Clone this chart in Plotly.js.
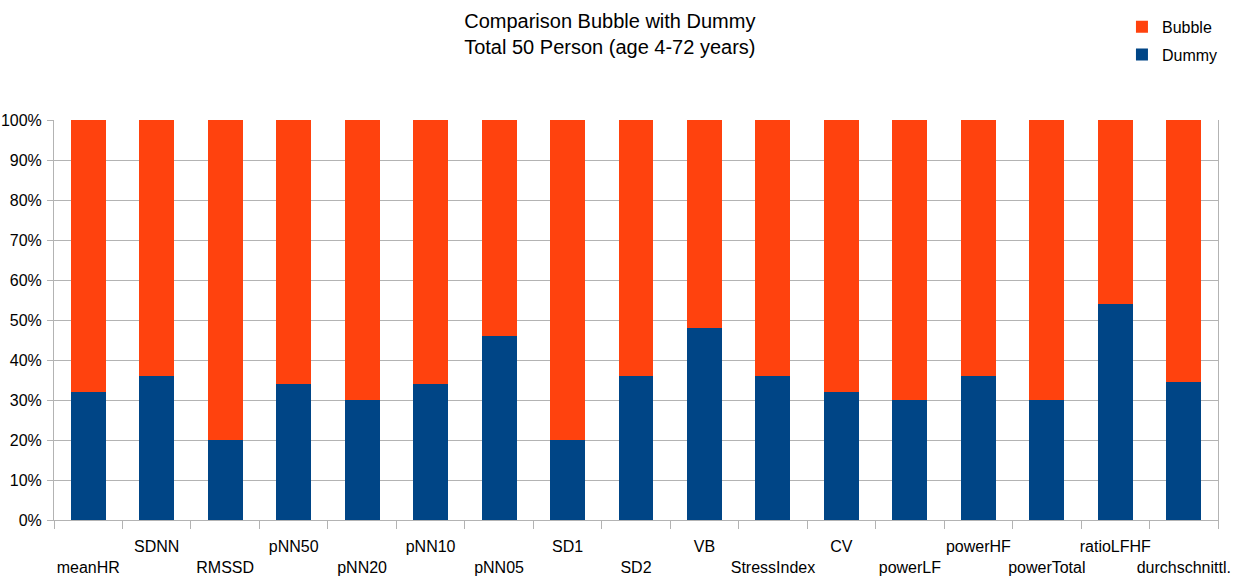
<!DOCTYPE html>
<html><head><meta charset="utf-8">
<script src="https://cdn.plot.ly/plotly-3.0.1.min.js"></script>
<style>html,body{margin:0;padding:0;background:#fff}</style>
</head><body>
<div id="chart" style="width:1237px;height:579px"></div>
<script>
const categories = ["meanHR","SDNN","RMSSD","pNN50","pNN20","pNN10","pNN05","SD1","SD2","VB","StressIndex","CV","powerLF","powerHF","powerTotal","ratioLFHF","durchschnittl."];
const dummy = [32,36,20,34,30,34,46,20,36,48,36,32,30,36,30,54,34.6];
const bubble = dummy.map(v => 100 - v);
const yTicks = [0,10,20,30,40,50,60,70,80,90,100];

const tickText = categories.map((c,i) => i % 2 === 0 ? "<br>" + c : c);

const traces = [
  {type:'bar', name:'Dummy', legendgroup:'d', legendrank:2, x:categories, y:dummy, marker:{color:'#004586'}, width:0.51, hoverinfo:'x+y'},
  {type:'bar', name:'Bubble', legendgroup:'b', legendrank:1, x:categories, y:bubble, marker:{color:'#ff420e'}, width:0.51, hoverinfo:'x+y'}
];

const layout = {
  width:1237, height:579,
  margin:{l:54, r:19, t:120, b:59, pad:0, autoexpand:false},
  paper_bgcolor:'#fff', plot_bgcolor:'#fff',
  font:{family:'"Liberation Sans", Arial, sans-serif', size:16, color:'#000'},
  barmode:'stack',
  title:{text:'Comparison Bubble with Dummy<br>Total 50 Person (age 4-72 years)', font:{size:20, color:'#000'}, xref:'container', x:0.493, xanchor:'center', yref:'container', y:0.952, yanchor:'top'},
  xaxis:{type:'category', tickmode:'array', tickvals:categories, ticktext:tickText, tickangle:0, automargin:false,
         showline:true, linecolor:'#b3b3b3', linewidth:1, ticks:'outside', tickson:'boundaries', ticklabelstandoff:12,
         ticklen:8, tickcolor:'#b3b3b3', showgrid:false, tickfont:{size:16, color:'#000'}, fixedrange:true},
  yaxis:{range:[0,100], tickmode:'array', tickvals:yTicks, ticktext:yTicks.map(v=>v+'%'), automargin:false,
         showline:true, linecolor:'#b3b3b3', mirror:true, ticks:'outside', ticklen:6, tickcolor:'#b3b3b3', ticklabelstandoff:2,
         showgrid:true, gridcolor:'#b3b3b3', gridwidth:1, zeroline:false, tickfont:{size:16, color:'#000'}, fixedrange:true},
  legend:{x:0.907, xanchor:'left', xref:'container', y:0.983, yanchor:'top', yref:'container', traceorder:'grouped', tracegroupgap:4, font:{size:16}, bgcolor:'rgba(0,0,0,0)'},
  showlegend:true
};
Plotly.newPlot('chart', traces, layout, {displayModeBar:false, staticPlot:true});
</script>
</body></html>
